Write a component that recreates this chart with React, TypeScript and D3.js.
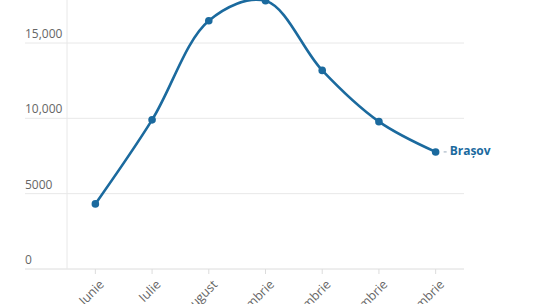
import React from "react";
import * as d3 from "d3";

const categories = ["Iunie", "Iulie", "August", "Septembrie", "Octombrie", "Noiembrie", "Decembrie"];
const values = [4320, 9900, 16480, 17800, 13180, 9780, 7770];
const yTicks = [0, 5000, 10000, 15000];
const seriesName = "Brașov";

const W = 540, H = 304;
const left = 67, right = 464, top = 0, bottom = 269;
const color = "#1b6a9e";
const font = "'Open Sans', 'Noto Sans', sans-serif";

export default function App() {
  const x = d3.scaleBand<string>().domain(categories).range([left, right]);
  const y = d3.scaleLinear().domain([0, 15000]).range([bottom, 43]);
  const cx = (c: string) => (x(c) as number) + x.bandwidth() / 2;
  const line = d3
    .line<number>()
    .x((_, i) => cx(categories[i]))
    .y((v) => y(v))
    .curve(d3.curveCatmullRom.alpha(0.5));
  const fmt = (v: number) => (v >= 10000 ? d3.format(",")(v) : String(v));
  const lastI = values.length - 1;
  const lx = cx(categories[lastI]);
  const ly = y(values[lastI]);
  return (
    <svg width={W} height={H} style={{ position: "absolute", left: 0, top: 0, background: "#fff" }}>
      {yTicks.map((t) => (
        <g key={t}>
          <line x1={25} x2={right} y1={y(t)} y2={y(t)} stroke={t === 0 ? "#dcdcdc" : "#e8e8e8"} strokeWidth={1} />
          <text x={25} y={y(t) - 5} fontFamily={font} fontSize={12} fill="#666">
            {fmt(t)}
          </text>
        </g>
      ))}
      <line x1={left} x2={left} y1={top} y2={bottom} stroke="#e8e8e8" strokeWidth={1} />
      {categories.map((c) => (
        <g key={c}>
          <line x1={cx(c)} x2={cx(c)} y1={bottom} y2={bottom + 5} stroke="#dcdcdc" />
          <text
            transform={`translate(${cx(c) + 7},${bottom + 14}) rotate(-45)`}
            textAnchor="end"
            dominantBaseline="middle"
            fontFamily={font}
            fontSize={12.5}
            fill="#666"
          >
            {c}
          </text>
        </g>
      ))}
      <path d={line(values) || ""} fill="none" stroke={color} strokeWidth={2.6} />
      {values.map((v, i) => (
        <circle key={i} cx={cx(categories[i])} cy={y(v)} r={3.8} fill={color} />
      ))}
      <line x1={lx + 8} x2={lx + 11} y1={ly} y2={ly} stroke="#9ab" strokeWidth={1} />
      <text x={lx + 14} y={ly} dominantBaseline="middle" fontFamily={font} fontSize={12} fontWeight="bold" fill={color}>
        {seriesName}
      </text>
    </svg>
  );
}
